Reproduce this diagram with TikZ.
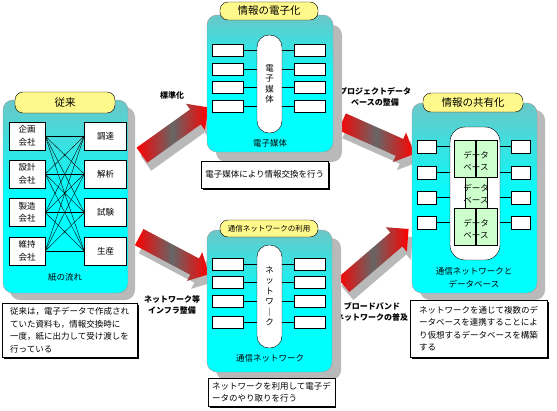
\documentclass[tikz,border=0pt]{standalone}
\usepackage{fontspec}
\setmainfont{Noto Sans CJK JP}
\usepackage{tikz}
\usetikzlibrary{shapes,arrows,positioning,calc,shadows}

\begin{document}
\begin{tikzpicture}[x=1pt, y=-1pt, font=\fontsize{8.5}{12.5}\selectfont,
  panel/.style={draw=gray!80, rounded corners=10pt, top color=cyan!45!gray!80, bottom color=cyan, middle color=cyan},
  backpanel/.style={fill=gray!55, rounded corners=10pt},
  title/.style={draw, fill=yellow!45, rounded corners=8pt, font=\fontsize{10.5}{12}\selectfont},
  cbox/.style={draw, fill=white, minimum width=36pt, minimum height=28pt, inner sep=1pt, align=center},
  sbox/.style={draw, fill=white, minimum width=31pt, minimum height=12pt, inner sep=0pt},
  pill/.style={draw, fill=white, rounded corners=12pt, minimum width=25pt, inner sep=0pt, align=center, font=\fontsize{8.5}{10.5}\selectfont},
  note/.style={draw, fill=white, align=left, anchor=north west, inner sep=4pt, drop shadow={shadow xshift=1.5pt, shadow yshift=-1.5pt, fill=black, opacity=1}},
  db/.style={cylinder, shape border rotate=90, aspect=0.25, draw, fill=green!20, minimum width=21pt, minimum height=37pt, inner sep=0pt},
  bigarrow/.style={single arrow, minimum width=32pt, single arrow head extend=7pt, single arrow head indent=0pt, inner xsep=0pt, inner ysep=9pt, left color=red, right color=red, middle color=gray!80!black},
  arrowshadow/.style={single arrow, minimum width=32pt, single arrow head extend=7pt, inner xsep=0pt, inner ysep=9pt, fill=gray!55},
  steplabel/.style={font=\bfseries\fontsize{8}{10.5}\selectfont, align=center}]
  \useasboundingbox (0,0) rectangle (557,410);

  % arrows
  \foreach \name/\x/\y/\len/\ang in {up/171.5/134/82/35.6, prj/374/136/79/-24, low/170/253.5/79/-28, brd/372.5/260/86/40.7} {
    \node[arrowshadow, minimum height=\len pt, rotate=\ang] at (\x+4,\y+8) {};
    \node[bigarrow, minimum height=\len pt, rotate=\ang] (\name) at (\x,\y) {};
  }
  \node[steplabel] (upText) at (172,95) {標準化};
  \node[steplabel] (prjText) at (375,97) {プロジェクトデータ\\ベースの整備};
  \node[steplabel] (lowText) at (172,305) {ネットワーク等\\インフラ整備};
  \node[steplabel] (brdText) at (372,312) {ブロードバンド\\ネットワークの普及};

  % conventional
  \node[backpanel, minimum width=125pt, minimum height=193pt] (convBack) at (72.5,203.5) {};
  \node[panel, minimum width=125pt, minimum height=193pt] (conv) at (65.5,196.5) {};
  \node[title, minimum width=100pt, minimum height=21pt] (convTitle) at (65,102.5) {従来};
  \foreach \i/\y/\a/\b in {1/136/企画/調達, 2/174/設計/解析, 3/212.5/製造/試験, 4/251/維持/生産} {
    \node[cbox] (cl\i) at (27,\y) {\a\\会社};
    \node[cbox, minimum width=42pt] (cr\i) at (105.5,\y) {\b};
  }
  \foreach \i in {1,...,4}
    \foreach \j in {1,...,4}
      \draw (cl\i.east) -- (cr\j.west);
  \node[] (convLabel) at (65,277) {紙の流れ};
  \node[note, minimum width=135pt, minimum height=54pt] (convNote) at (2,303) {従来は，電子データで作成され\\ていた資料も，情報交換時に\\一度，紙に出力して受け渡しを\\行っている};

  % electronic media
  \node[backpanel, minimum width=126pt, minimum height=137pt] (elecBack) at (279,93.5) {};
  \node[panel, minimum width=126pt, minimum height=137pt] (elec) at (270,83.5) {};
  \node[title, minimum width=98pt, minimum height=18pt] (elecTitle) at (269,11) {情報の電子化};
  \node[pill, minimum height=98pt] (emed) at (269.5,84) {電\\子\\媒\\体};
  \foreach \i/\y in {1/50, 2/69, 3/87.5, 4/106} {
    \node[sbox] (el\i) at (227.5,\y) {};
    \node[sbox] (er\i) at (310,\y) {};
    \draw (el\i.east) -- (el\i -| emed.west);
    \draw (er\i.west) -- (er\i -| emed.east);
  }
  \node[] (elecLabel) at (270,143) {電子媒体};
  \node[note, minimum width=127pt, minimum height=27pt, anchor=west] (elecNote) at (201,174.5) {電子媒体により情報交換を行う};

  % network
  \node[backpanel, minimum width=125pt, minimum height=142pt] (netwBack) at (278.5,309) {};
  \node[panel, minimum width=125pt, minimum height=142pt] (netw) at (269.5,301) {};
  \node[title, minimum width=98pt, minimum height=17pt, font=\fontsize{7.5}{9}\selectfont] (netwTitle) at (269,228.5) {通信ネットワークの利用};
  \node[pill, minimum height=103pt] (nmed) at (269.5,296.5) {ネ\\ッ\\ト\\ワ\\｜\\ク};
  \foreach \i/\y in {1/264.5, 2/282.5, 3/301, 4/322.5} {
    \node[sbox] (nl\i) at (227.5,\y) {};
    \node[sbox] (nr\i) at (310,\y) {};
    \draw (nl\i.east) -- (nl\i -| nmed.west);
    \draw (nr\i.west) -- (nr\i -| nmed.east);
  }
  \node[] (netwLabel) at (270,358) {通信ネットワーク};
  \node[note, minimum width=125pt, minimum height=27pt] (netwNote) at (208,378) {ネットワークを利用して電子デ\\ータのやり取りを行う};

  % sharing
  \node[backpanel, minimum width=125pt, minimum height=190pt] (shareBack) at (482.5,205) {};
  \node[panel, minimum width=125pt, minimum height=190pt] (share) at (474.5,198) {};
  \node[title, minimum width=100pt, minimum height=19pt] (shareTitle) at (473,102.5) {情報の共有化};
  \node[draw, fill=white, rounded corners=15pt, minimum width=50pt, minimum height=133pt] (sdb) at (475,193.5) {};
  \foreach \i/\y in {1/146.5, 2/172.5, 3/197.5, 4/222.5} {
    \node[sbox, minimum width=19pt, minimum height=13pt] (sl\i) at (426.5,\y) {};
    \node[sbox, minimum width=19pt, minimum height=13pt] (sr\i) at (521,\y) {};
    \draw (sl\i.east) -- (sl\i -| sdb.west);
    \draw (sr\i.west) -- (sr\i -| sdb.east);
  }
  \node[db] (dbA) at (465,158.5) {};
  \node[db] (dbB) at (487,158.5) {};
  \node[db, minimum width=22pt, minimum height=31pt] (dbC) at (476,192.5) {};
  \node[db] (dbD) at (465,226.5) {};
  \node[db] (dbE) at (487,226.5) {};
  \node[align=center] at (476,161) {データ\\ベース};
  \node[align=center] at (476,194) {データ\\ベース};
  \node[align=center] at (476,229) {データ\\ベース};
  \node[align=center] (shareLabel) at (474,277.5) {通信ネットワークと\\データベース};
  \node[note, minimum width=137pt, minimum height=57pt] (shareNote) at (410,300) {ネットワークを通じて複数のデ\\ータベースを連携することによ\\り仮想するデータベースを構築\\する};
\end{tikzpicture}
\end{document}
